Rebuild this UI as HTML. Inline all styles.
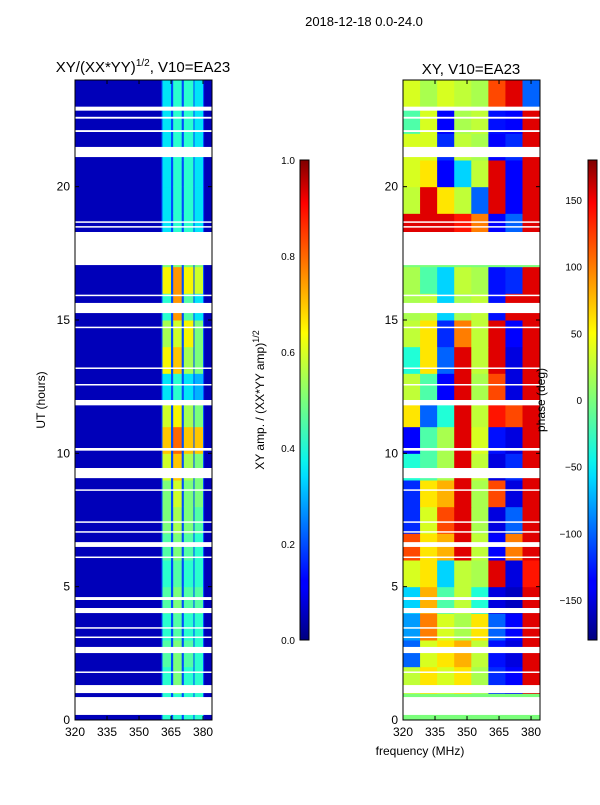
<!DOCTYPE html>
<html><head><meta charset="utf-8"><style>
body{margin:0;background:#fff;}
svg text{font-family:"Liberation Sans",sans-serif;fill:#000;}
</style></head><body>
<svg id="fig" width="600" height="800" xmlns="http://www.w3.org/2000/svg">
<defs>
<linearGradient id="jet" x1="0" y1="1" x2="0" y2="0">
<stop offset="0" stop-color="#00007f"/><stop offset="0.11" stop-color="#0000ff"/><stop offset="0.125" stop-color="#0000ff"/>
<stop offset="0.34" stop-color="#00dcff"/><stop offset="0.375" stop-color="#0cf4eb"/><stop offset="0.5" stop-color="#7bff7b"/>
<stop offset="0.64" stop-color="#ffff00"/><stop offset="0.66" stop-color="#ffeb00"/><stop offset="0.89" stop-color="#ff1300"/>
<stop offset="0.91" stop-color="#ff0000"/><stop offset="1" stop-color="#7f0000"/>
</linearGradient>
</defs>
<text x="364" y="26" font-size="13" text-anchor="middle">2018-12-18 0.0-24.0</text>
<text x="143" y="72" font-size="15" text-anchor="middle">XY/(XX*YY)<tspan font-size="10" dy="-6">1/2</tspan><tspan dy="6">, V10=EA23</tspan></text>
<text x="471" y="74" font-size="15" text-anchor="middle">XY, V10=EA23</text>
<g id="leftPlot"></g>
<g id="rightPlot"></g>
<g id="axes"></g>
<text x="420" y="755" font-size="12" text-anchor="middle">frequency (MHz)</text>
<text transform="translate(45,400) rotate(-90)" font-size="12" text-anchor="middle">UT (hours)</text>
<rect x="300" y="160" width="9" height="480" fill="url(#jet)" stroke="#000" stroke-width="1"/>
<rect x="588" y="160" width="9" height="480" fill="url(#jet)" stroke="#000" stroke-width="1"/>
<text transform="translate(264,400) rotate(-90)" font-size="12" text-anchor="middle">XY amp. / (XX*YY amp)<tspan font-size="9" dy="-5">1/2</tspan></text>
<text transform="translate(545,400) rotate(-90)" font-size="12" text-anchor="middle">phase (deg)</text>
</svg>
<script>
// ---- data ----
const ampBlocks=[[361,365],[366,370],[371,375.5],[376,380]];
const ampGrid=[
[0.4,0.4,0.4,0.4],[0.4,0.5,0.4,0.4],[0.45,0.5,0.45,0.4],[0.4,0.45,0.4,0.4],
[0.45,0.5,0.45,0.45],[0.4,0.45,0.4,0.4],[0.45,0.5,0.45,0.4],[0.5,0.55,0.5,0.45],
[0.5,0.6,0.5,0.5],[0.6,0.7,0.55,0.5],[0.7,0.8,0.7,0.7],[0.6,0.65,0.55,0.5],
[0.35,0.4,0.35,0.3],[0.65,0.7,0.55,0.5],[0.55,0.6,0.65,0.5],[0.4,0.75,0.45,0.35],
[0.65,0.75,0.65,0.6],[0.5,0.5,0.5,0.5],[0.35,0.4,0.4,0.35],[0.35,0.4,0.4,0.35],
[0.35,0.4,0.4,0.35],[0.35,0.4,0.4,0.35],[0.35,0.4,0.4,0.35],[0.35,0.4,0.4,0.35]];
const ampBackground=0.05;
const phaseBins=[320,328,336,344,352,360,368,376,384.2];
const phaseGrid=[
[0,0,0,0,0,0,0,0],
[30,60,40,60,20,-120,-140,150],
[-100,40,60,80,30,-130,-150,150],
[-80,100,40,20,60,-100,-140,150],
[-60,80,-20,30,-40,-150,-160,150],
[40,60,-60,30,20,150,-150,140],
[120,60,80,150,30,-140,100,150],
[-120,40,120,150,20,-150,-100,150],
[-120,60,80,150,20,120,-150,150],
[-40,-20,20,150,30,-150,-120,150],
[-140,-20,20,150,40,-130,-150,150],
[60,-100,-40,150,30,140,120,150],
[30,-20,-140,150,20,120,-150,150],
[-40,60,-100,150,30,150,-150,150],
[30,60,-120,100,30,150,-140,150],
[20,30,-60,20,30,-130,150,150],
[20,-20,-60,30,20,-130,-120,150],
[0,0,0,0,0,0,0,0],
[150,150,150,140,100,-140,-100,150],
[30,150,60,30,-100,150,-140,150],
[40,60,-140,-60,30,150,-140,150],
[40,40,-120,30,20,-140,-120,150],
[-20,40,-140,20,30,-130,-140,150],
[40,20,40,30,20,120,150,-100]];
const gaps=[[22.85,23.0],[22.55,22.62],[22.05,22.12],[21.11,21.49],[18.65,18.7],[18.47,18.52],[17.06,18.3],
[15.9,15.95],[15.26,15.64],[14.7,14.75],[13.18,13.22],[12.55,12.6],[11.8,12.0],[10.1,10.2],[9.07,9.45],
[8.6,8.65],[7.4,7.45],[7.03,7.08],[6.49,6.67],[6.09,6.13],[4.5,4.61],[4.01,4.2],[3.1,3.13],[3.45,3.48],
[2.51,2.74],[1.78,1.82],[1.01,1.31],[0.19,0.86]];
const xTicks=[320,335,350,365,380];
const yTicks=[0,5,10,15,20];
const ampTicks=[0.0,0.2,0.4,0.6,0.8,1.0];
const phaseTicks=[-150,-100,-50,0,50,100,150];
// ---- scales ----
const NS='http://www.w3.org/2000/svg';
const F0=320,F1=384.2,T0=0,T1=24,PT=80,PB=720,PW=137;
const yS=t=>PB-(t-T0)/(T1-T0)*(PB-PT);
const xS=(left,f)=>left+(f-F0)/(F1-F0)*PW;
function jet(v){v=Math.max(0,Math.min(1,v));
 const ip=(pts)=>{for(let i=1;i<pts.length;i++){if(v<=pts[i][0]){const a=pts[i-1],b=pts[i];return a[1]+(b[1]-a[1])*(v-a[0])/(b[0]-a[0]);}}return pts[pts.length-1][1];};
 const r=ip([[0,0],[0.35,0],[0.66,1],[0.89,1],[1,0.5]]),g=ip([[0,0],[0.125,0],[0.375,1],[0.64,1],[0.91,0],[1,0]]),b=ip([[0,0.5],[0.11,1],[0.34,1],[0.65,0],[1,0]]);
 return `rgb(${Math.round(r*255)},${Math.round(g*255)},${Math.round(b*255)})`;}
function rect(p,x,y,w,h,fill){const r=document.createElementNS(NS,'rect');r.setAttribute('x',x);r.setAttribute('y',y);r.setAttribute('width',w);r.setAttribute('height',h);r.setAttribute('fill',fill);p.appendChild(r);return r;}
function txt(p,x,y,s,anchor){const t=document.createElementNS(NS,'text');t.setAttribute('x',x);t.setAttribute('y',y);t.setAttribute('font-size','12');t.setAttribute('text-anchor',anchor);t.textContent=s;p.appendChild(t);return t;}
const L=document.getElementById('leftPlot'),R=document.getElementById('rightPlot'),A=document.getElementById('axes');
// amplitude
let bg=rect(L,75,PT,PW,PB-PT,jet(ampBackground));


rect(L,xS(75,360.5),PT,xS(75,380.5)-xS(75,360.5),PB-PT,jet(0.2));
ampGrid.forEach((row,h)=>{row.forEach((v,j)=>{const b=ampBlocks[j];
 const c=rect(L,xS(75,b[0]),yS(h+1),xS(75,b[1])-xS(75,b[0]),yS(h)-yS(h+1)+0.5,jet(v));
 
 });});
// phase
phaseGrid.forEach((row,h)=>{row.forEach((v,j)=>{
 const x0=xS(403,phaseBins[j]),x1=xS(403,phaseBins[j+1]);
 const c=rect(R,x0,yS(h+1),x1-x0+0.5,yS(h)-yS(h+1)+0.5,jet((v+180)/360));
 
 });});
// gaps
[[L,75],[R,403]].forEach(([g,left])=>{gaps.forEach(([a,b])=>{
 const c=rect(g,left,yS(b),PW,Math.max(1.5,yS(a)-yS(b)),'#fff');
 
 });});
// axes frames and ticks
[75,403].forEach(left=>{
 const f=rect(A,left,PT,PW,PB-PT,'none');f.setAttribute('stroke','#000');f.setAttribute('stroke-width','1');
 
 
 xTicks.forEach(v=>{const x=xS(left,v);rect(A,x-0.5,PB-4,1,4,'#000');rect(A,x-0.5,PT,1,4,'#000');
  const t=txt(A,x,736,String(v),'middle');
  
  });
 yTicks.forEach(v=>{const y=yS(v);rect(A,left,y-0.5,4,1,'#000');rect(A,left+PW-4,y-0.5,4,1,'#000');
  const t=txt(A,left-5,y+4,String(v),'end');
  
  });
});
ampTicks.forEach(v=>{const y=640-v*480;rect(A,300,y-0.5,3,1,'#000');rect(A,306,y-0.5,3,1,'#000');
 const t=txt(A,295,y+4,v.toFixed(1),'end');t.setAttribute('font-size','10');
 
 });
phaseTicks.forEach(v=>{const y=640-(v+180)/360*480;rect(A,588,y-0.5,3,1,'#000');rect(A,594,y-0.5,3,1,'#000');
 const t=txt(A,582,y+4,v<0?'\u2212'+(-v):String(v),'end');t.setAttribute('font-size','10');
 
 });
</script>
</body></html>
